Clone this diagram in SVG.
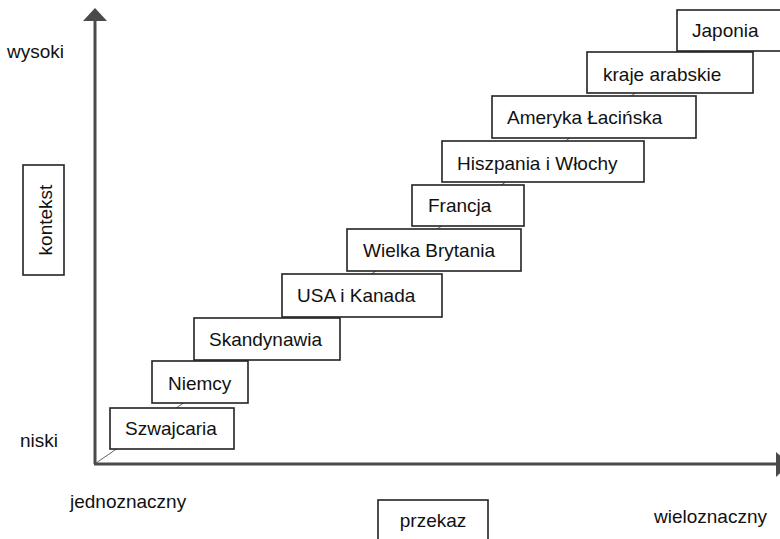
<svg xmlns="http://www.w3.org/2000/svg" width="780" height="539" viewBox="0 0 780 539">
<style>
.box{fill:#fff;stroke:#222;stroke-width:1.6}
.t{font-family:"Liberation Sans",Arial,sans-serif;font-size:19px;fill:#111}
.axis{stroke:#4a4a4a;stroke-width:3;fill:none}
.diag{stroke:#666;stroke-width:1;fill:none}
</style>
<rect width="780" height="539" fill="#fff"/>
<g id="connectors">
<line class="diag" x1="96" y1="463" x2="720" y2="35"/>
<line class="axis" x1="95" y1="464" x2="95" y2="19"/>
<polygon points="95,8 83,21 107,21" fill="#4a4a4a"/>
<line class="axis" x1="94" y1="464" x2="778" y2="464"/>
<polygon points="790,464 776,452 776,477" fill="#4a4a4a"/>
</g>
<g id="label-wysoki"><text class="t" x="7" y="58">wysoki</text></g>
<g id="label-niski"><text class="t" x="20" y="447">niski</text></g>
<g id="label-jednoznaczny"><text class="t" x="70" y="508">jednoznaczny</text></g>
<g id="label-wieloznaczny"><text class="t" x="654" y="523">wieloznaczny</text></g>
<g id="kontekst"><rect class="box" x="23" y="165" width="41" height="110"/><text class="t" transform="translate(52,220) rotate(-90)" text-anchor="middle">kontekst</text></g>
<g id="przekaz"><rect class="box" x="378" y="500" width="110" height="60"/><text class="t" x="433" y="527" text-anchor="middle">przekaz</text></g>
<g id="szwajcaria"><rect class="box" x="110" y="408" width="124" height="41"/><text class="t" x="125" y="435">Szwajcaria</text></g>
<g id="niemcy"><rect class="box" x="152" y="361" width="96" height="42"/><text class="t" x="168" y="390">Niemcy</text></g>
<g id="skandynawia"><rect class="box" x="194" y="318" width="146" height="42"/><text class="t" x="209" y="346">Skandynawia</text></g>
<g id="usa"><rect class="box" x="282" y="274" width="160" height="43"/><text class="t" x="297" y="302">USA i Kanada</text></g>
<g id="wielka-brytania"><rect class="box" x="347" y="229" width="174" height="42"/><text class="t" x="363" y="257">Wielka Brytania</text></g>
<g id="francja"><rect class="box" x="412" y="185" width="112" height="41"/><text class="t" x="428" y="212">Francja</text></g>
<g id="hiszpania"><rect class="box" x="442" y="141" width="202" height="41"/><text class="t" x="457" y="170">Hiszpania i Włochy</text></g>
<g id="ameryka"><rect class="box" x="492" y="96" width="204" height="42"/><text class="t" x="507" y="124">Ameryka Łacińska</text></g>
<g id="kraje"><rect class="box" x="587" y="52" width="166" height="41"/><text class="t" x="603" y="81">kraje arabskie</text></g>
<g id="japonia"><rect class="box" x="677" y="10" width="120" height="41"/><text class="t" x="692" y="37">Japonia</text></g>
</svg>
